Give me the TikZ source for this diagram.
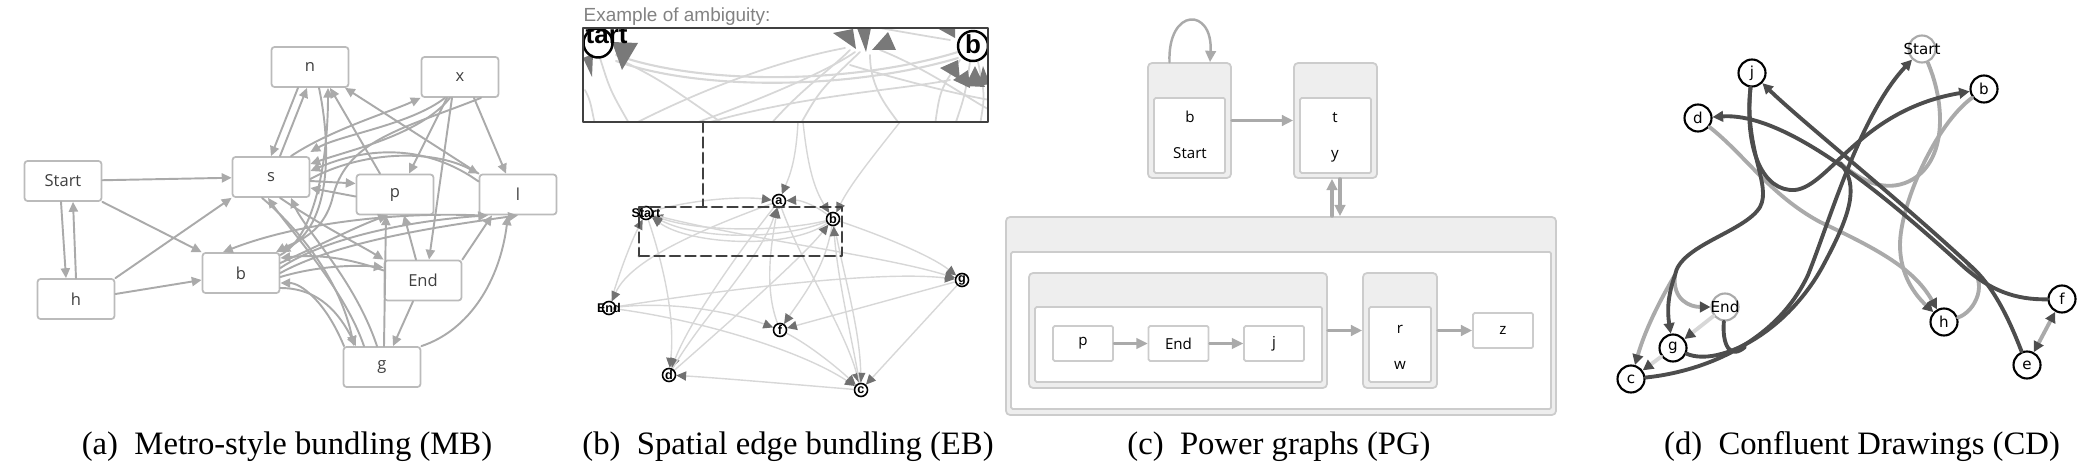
\documentclass[tikz,border=0pt]{standalone}
\usepackage{fontspec}
\usepackage{tikz}
\setmainfont{Liberation Serif}
\newfontfamily\mbfont{Open Sans}
\newfontfamily\ebfont{Liberation Sans}
\newfontfamily\cdfont{DejaVu Sans}
\usetikzlibrary{arrows.meta,backgrounds}
\definecolor{aaaaaa}{rgb}{0.6666666666666666,0.6666666666666666,0.6666666666666666}
\definecolor{bbbbbb}{rgb}{0.7333333333333333,0.7333333333333333,0.7333333333333333}
\definecolor{cccccc}{rgb}{0.8,0.8,0.8}
\definecolor{dddddd}{rgb}{0.8431372549019608,0.8431372549019608,0.8431372549019608}
\definecolor{eeeeee}{rgb}{0.9333333333333333,0.9333333333333333,0.9333333333333333}
\definecolor{ududud}{rgb}{0.30196078431372547,0.30196078431372547,0.30196078431372547}
\definecolor{uququq}{rgb}{0.25098039215686274,0.25098039215686274,0.25098039215686274}
\tikzstyle{every node}=[inner sep=0pt]
\tikzstyle{mbbox}=[draw=bbbbbb,line width=0.5pt,rounded corners=0.3mm,fill=white,minimum width=7.7mm,minimum height=4mm,text=uququq,font=\mbfont\fontsize{4.7}{5}\selectfont]
\tikzstyle{mbedge}=[draw=aaaaaa,line width=0.55pt,-{Triangle[length=2.8pt,width=2.6pt]}]
\tikzstyle{ebnode}=[circle,draw=black,line width=0.45pt,fill=white,minimum size=1.3mm]
\tikzstyle{eblab}=[font=\ebfont\bfseries\fontsize{3.6}{4}\selectfont]
\tikzstyle{ebedge}=[draw=dddddd,line width=0.4pt,-{Triangle[length=2.8pt,width=2.6pt,color=ududud!80]}]
\tikzstyle{ebdash}=[draw=uququq,line width=0.8pt,dash pattern=on 1mm off 0.55mm]
\tikzstyle{pggroup}=[draw=cccccc,line width=0.5pt,fill=eeeeee,rounded corners=0.4mm]
\tikzstyle{pginner}=[draw=cccccc,line width=0.5pt,fill=white,rounded corners=0.15mm]
\tikzstyle{pglab}=[anchor=base,font=\mbfont\fontsize{4.3}{5}\selectfont]
\tikzstyle{pgedge}=[draw=aaaaaa,line width=0.9pt,-{Triangle[length=3.2pt,width=3pt]}]
\tikzstyle{cdnode}=[circle,draw=black,line width=0.6pt,fill=white,minimum size=2.7mm,font=\cdfont\fontsize{4.3}{5}\selectfont]
\tikzstyle{cdlab}=[font=\cdfont\fontsize{4.3}{5}\selectfont]
\tikzstyle{cdedge}=[line width=1.1pt,-{Triangle[length=3pt,width=3pt,color=ududud]}]
\tikzstyle{capt}=[anchor=base,font=\fontsize{9.3}{11}\selectfont]

\begin{document}
\begin{tikzpicture}[line cap=round,line join=round,x=0.1mm,y=-0.1mm]
\useasboundingbox (0,0) rectangle (2099,476);
% (a) metro-style bundling
\node[mbbox] (mbn) at (310,67) {n};
\node[mbbox] (mbx) at (460,77) {x};
\node[mbbox] (mbStart) at (63,181) {Start};
\node[mbbox] (mbs) at (271,177) {s};
\node[mbbox] (mbp) at (395,194.5) {p};
\node[mbbox] (mbl) at (518,194.5) {l};
\node[mbbox] (mbh) at (76,299) {h};
\node[mbbox] (mbb) at (241,273) {b};
\node[mbbox] (mbEnd) at (423,280.5) {End};
\node[mbbox] (mbg) at (382,367) {g};
\draw[mbedge] (mbStart) -- (mbs);
\draw[mbedge] (mbStart.south east) -- (mbb.north west);
\draw[mbedge] ([xshift=-0.2mm]mbStart.south) -- ([xshift=-1mm]mbh.north);
\draw[mbedge] (mbh.north) -- ([xshift=1mm]mbStart.south);
\draw[mbedge] (mbh.north east) -- (mbs.south west);
\draw[mbedge] ([yshift=0.5mm]mbh.east) -- ([yshift=-0.7mm]mbb.west);
\draw[mbedge] ([xshift=0.9mm]mbs.north) -- ([xshift=-0.3mm]mbn.south);
\draw[mbedge] ([xshift=-1.2mm]mbn.south) -- (mbs.north);
\draw[mbedge] (mbl.north west) -- ([xshift=3.5mm]mbn.south);
\draw[mbedge] ([xshift=-1.5mm]mbp.north) -- ([xshift=2mm]mbn.south);
\draw[mbedge] ([xshift=-1.5mm]mbx.south) .. controls (410,125) and (340,135) .. ([yshift=2.5mm]mbs.east);
\draw[mbedge] ([xshift=-1mm]mbx.south) .. controls (420,135) and (350,150) .. ([yshift=1.3mm]mbs.east);
\draw[mbedge] ([xshift=2mm]mbs.north) .. controls (330,130) and (390,112) .. (mbx.south west);
\draw[mbedge] ([yshift=1.3mm]mbl.west) .. controls (420,140) and (360,150) .. ([yshift=0.6mm]mbs.east);
\draw[mbedge] ([yshift=-0.2mm]mbs.east) .. controls (360,152) and (430,148) .. (mbl.north west);
\draw[mbedge] ([yshift=-0.4mm]mbs.east) -- ([yshift=1.1mm]mbp.west);
\draw[mbedge] ([yshift=-0.2mm]mbp.west) -- ([yshift=-1.1mm]mbs.east);
\draw[mbedge] ([xshift=-1.3mm]mbx.south) -- ([xshift=1.4mm]mbp.north);
\draw[mbedge] ([xshift=-0.8mm]mbx.south) -- ([xshift=0.6mm]mbEnd.north);
\draw[mbedge] ([xshift=1.4mm]mbx.south) -- ([xshift=-1.2mm]mbl.north);
\draw[mbedge] ([xshift=2.1mm]mbx.south) .. controls (400,130) and (345,140) .. (332,200) .. controls (322,235) and (295,242) .. ([xshift=3.5mm]mbb.north);
\draw[mbedge] (mbl.south west) .. controls (400,212) and (300,222) .. ([xshift=-1.8mm]mbb.north);
\draw[mbedge] ([xshift=0.9mm]mbn.south) .. controls (332,150) and (330,225) .. (mbb.north east);
\draw[mbedge] ([yshift=1.8mm]mbb.east) .. controls (318,235) and (328,150) .. ([xshift=1.8mm]mbn.south);
\draw[mbedge] ([xshift=0.9mm]mbs.south) .. controls (320,225) and (360,245) .. (mbEnd.north west);
\draw[mbedge] ([xshift=-0.9mm]mbs.south) .. controls (300,230) and (340,280) .. ([xshift=-2.8mm]mbg.north);
\draw[mbedge] ([xshift=-1.8mm]mbg.north) .. controls (345,290) and (290,230) .. ([xshift=-0.3mm]mbs.south);
\draw[mbedge] ([xshift=-0.5mm]mbg.north) .. controls (355,280) and (305,230) .. ([xshift=2mm]mbs.south);
\draw[mbedge] ([yshift=1mm]mbb.east) .. controls (320,245) and (360,225) .. ([xshift=-0.7mm]mbp.south);
\draw[mbedge] ([yshift=0.5mm]mbb.east) .. controls (330,235) and (420,220) .. ([xshift=-3mm]mbl.south);
\draw[mbedge] (mbb.east) .. controls (340,240) and (450,225) .. (mbl.south);
\draw[mbedge] ([yshift=1mm]mbEnd.west) .. controls (340,255) and (310,255) .. ([yshift=1.5mm]mbb.east);
\draw[mbedge] ([xshift=-3.8mm]mbg.north) .. controls (325,300) and (300,283) .. ([yshift=-1mm]mbb.east);
\draw[mbedge] ([yshift=-0.4mm]mbb.east) .. controls (320,265) and (360,265) .. ([yshift=1.3mm]mbEnd.west);
\draw[mbedge] ([yshift=-1.5mm]mbb.east) .. controls (320,288) and (340,315) .. ([xshift=-2.6mm]mbg.north);
\draw[mbedge] ([xshift=-1mm]mbEnd.south) -- ([xshift=1.1mm]mbg.north);
\draw[mbedge] (mbEnd.north east) -- ([xshift=-2.6mm]mbl.south);
\draw[mbedge] ([xshift=-0.7mm]mbEnd.north) -- ([xshift=0.9mm]mbp.south);
\draw[mbedge] ([xshift=0.2mm]mbg.north) -- ([xshift=-0.9mm]mbp.south);
\draw[mbedge] (mbg.north east) .. controls (470,330) and (500,280) .. ([xshift=-1mm]mbl.south);

% (b) spatial edge bundling
\node[font=\ebfont\fontsize{5.4}{6}\selectfont,text=ududud!70,anchor=base west] (ebtitle) at (583,22) {Example of ambiguity:};
\begin{scope}
\clip (583,28) rectangle (988,122);
\draw[dddddd,line width=0.6pt] (616,55) .. controls (700,85) and (850,85) .. (958,52);
\draw[dddddd,line width=0.6pt] (616,61) .. controls (700,91) and (850,90) .. (958,58);
\draw[dddddd,line width=0.5pt] (600,58) .. controls (610,90) .. (630,125);
\draw[dddddd,line width=0.5pt] (625,62) .. controls (660,80) .. (725,125);
\draw[dddddd,line width=0.5pt] (632,125) .. controls (700,90) and (780,60) .. (845,48);
\draw[dddddd,line width=0.5pt] (690,125) .. controls (760,100) and (830,70) .. (855,52);
\draw[dddddd,line width=0.5pt] (770,125) .. controls (800,90) and (830,70) .. (850,50);
\draw[dddddd,line width=0.5pt] (800,125) .. controls (820,90) .. (860,52);
\draw[dddddd,line width=0.5pt] (870,55) .. controls (870,90) and (890,110) .. (900,125);
\draw[dddddd,line width=0.5pt] (880,50) .. controls (930,70) and (970,100) .. (990,110);
\draw[dddddd,line width=0.5pt] (850,65) .. controls (900,80) and (960,95) .. (990,100);
\draw[dddddd,line width=0.5pt] (960,60) .. controls (940,90) .. (935,125);
\draw[dddddd,line width=0.5pt] (970,62) .. controls (965,95) .. (955,125);
\draw[dddddd,line width=0.5pt] (978,62) .. controls (985,95) .. (980,125);
\draw[dddddd,line width=0.5pt] (700,125) .. controls (800,95) and (900,90) .. (950,80);
\draw[dddddd,line width=0.5pt] (880,28) .. controls (920,35) .. (950,40);
\draw[dddddd,line width=0.5pt] (585,90) .. controls (590,100) .. (595,125);
\fill[ududud!75] (612,42) -- (638,43) -- (622,70) -- cycle;
\fill[ududud!75] (583,58) -- (593,54) -- (592,77) -- cycle;
\fill[ududud!75] (833,33) -- (853,29) -- (856,49) -- cycle;
\fill[ududud!75] (857,28) -- (871,28) -- (866,52) -- cycle;
\fill[ududud!75] (872,50) -- (888,32) -- (896,50) -- cycle;
\fill[ududud!75] (937,28) -- (955,28) -- (955,38) -- cycle;
\fill[ududud!75] (940,68) -- (958,60) -- (960,80) -- cycle;
\fill[ududud!75] (953,80) -- (968,70) -- (970,88) -- cycle;
\fill[ududud!75] (965,86) -- (975,66) -- (985,87) -- cycle;
\fill[ududud!75] (978,86) -- (983,66) -- (990,84) -- cycle;
\node[circle,draw=black,line width=0.7pt,fill=white,fill opacity=0.6,minimum size=2.9mm] (ebzStart) at (598,43) {};
\node[circle,draw=black,line width=0.7pt,fill=white,fill opacity=0.6,minimum size=3mm] (ebzb) at (973,46) {};
\node[anchor=base,font=\ebfont\bfseries\fontsize{7.4}{8}\selectfont] (ebzStartlab) at (598,44) {Start};
\node[anchor=base,font=\ebfont\bfseries\fontsize{7.4}{8}\selectfont] (ebzblab) at (973,54) {b};
\end{scope}
\node[draw=uququq,line width=0.5pt,minimum width=40.5mm,minimum height=9.4mm] (ebzoom) at (785.5,75) {};
\node[ebnode,label={[eblab]center:Start}] (ebStart) at (646,213) {};
\node[ebnode,label={[eblab]center:a}] (eba) at (779,201) {};
\node[ebnode,label={[eblab]center:b}] (ebb) at (833,219) {};
\node[ebnode,label={[eblab]center:g}] (ebg) at (962,280) {};
\node[ebnode,label={[eblab]center:End}] (ebEnd) at (609,308) {};
\node[ebnode,label={[eblab]center:f}] (ebf) at (780,330) {};
\node[ebnode,label={[eblab]center:d}] (ebd) at (669,375) {};
\node[ebnode,label={[eblab]center:c}] (ebc) at (861,390) {};
\coordinate (ebz1) at (798,122);
\coordinate (ebz2) at (803,122);
\coordinate (ebz3) at (900,122);
\begin{scope}[on background layer]
\draw[ebedge] (ebStart) .. controls (690,200) and (740,196) .. (eba);
\draw[ebedge] (ebz1) .. controls (796,160) and (790,175) .. (eba);
\draw[ebedge] (ebz2) .. controls (808,170) and (815,190) .. (ebb);
\draw[ebedge] (ebz3) .. controls (870,160) and (850,185) .. (ebb);
\draw[ebedge] (ebb) .. controls (815,205) and (800,200) .. (eba);
\draw[ebedge] (ebb) .. controls (780,240) and (700,240) .. (ebStart);
\draw[ebedge] (ebb) .. controls (780,232) and (700,232) .. (ebStart);
\draw[ebedge] (ebb) .. controls (790,250) and (690,245) .. (ebStart);
\draw[ebedge] (ebEnd) .. controls (620,270) and (632,240) .. (ebStart);
\draw[ebedge] (eba) .. controls (700,230) and (630,260) .. (ebEnd);
\draw[ebedge] (ebStart) .. controls (665,270) and (675,320) .. (ebd);
\draw[ebedge] (eba) .. controls (740,250) and (690,320) .. (ebd);
\draw[ebedge] (ebd) .. controls (700,320) and (760,260) .. (eba);
\draw[ebedge] (ebd) .. controls (720,330) and (800,260) .. (ebb);
\draw[ebedge] (ebc) .. controls (800,385) and (720,378) .. (ebd);
\draw[ebedge] (ebf) .. controls (765,290) and (770,250) .. (eba);
\draw[ebedge] (ebb) .. controls (825,270) and (800,300) .. (ebf);
\draw[ebedge] (ebg) -- (ebf);
\draw[ebedge] (ebEnd) .. controls (720,290) and (880,270) .. (ebg);
\draw[ebedge] (ebb) .. controls (880,235) and (930,255) .. (ebg);
\draw[ebedge] (ebStart) .. controls (750,240) and (880,255) .. (ebg);
\draw[ebedge] (ebg) -- (ebc);
\draw[ebedge] (eba) .. controls (800,260) and (845,330) .. (ebc);
\draw[ebedge] (ebb) .. controls (845,280) and (860,330) .. (ebc);
\draw[ebedge] (ebc) .. controls (850,330) and (838,280) .. (ebb);
\draw[ebedge] (ebEnd) .. controls (700,320) and (800,350) .. (ebc);
\draw[ebedge] (ebEnd) .. controls (680,300) and (740,315) .. (ebf);
\draw[ebedge] (ebf) .. controls (810,345) and (840,370) .. (ebc);
\end{scope}
\node[ebdash,minimum width=20.3mm,minimum height=4.9mm] (ebsel) at (740.5,231.5) {};
\coordinate (ebzA) at (703,122);
\draw[ebdash] (ebzA) -- (ebzA |- ebsel.north);

% (c) power graphs
\node[pggroup,minimum width=8.3mm,minimum height=11.5mm] (pgOne) at (1189.5,120.5) {};
\node[pginner,minimum width=7.1mm,minimum height=7.5mm] (pgOneIn) at (1189.5,135.5) {};
\node[pglab] (pgb) at (1190,123) {b};
\node[pglab] (pgStart) at (1190,159) {Start};
\node[pggroup,minimum width=8.3mm,minimum height=11.5mm] (pgTwo) at (1335.5,120.5) {};
\node[pginner,minimum width=7.1mm,minimum height=7.5mm] (pgTwoIn) at (1335.5,135.5) {};
\node[pglab] (pgt) at (1335,123) {t};
\node[pglab] (pgy) at (1335,159) {y};
\node[pggroup,minimum width=55mm,minimum height=19.8mm] (pgAll) at (1281,316) {};
\node[pginner,minimum width=54mm,minimum height=15.7mm] (pgAllIn) at (1281,330.5) {};
\node[pggroup,minimum width=29.8mm,minimum height=11.5mm] (pgA) at (1178,330.5) {};
\node[pginner,minimum width=28.7mm,minimum height=7.5mm] (pgAIn) at (1178.5,344.5) {};
\node[pggroup,minimum width=7.4mm,minimum height=11.5mm] (pgB) at (1400,330.5) {};
\node[pginner,minimum width=6.2mm,minimum height=7.5mm] (pgBIn) at (1400,344.5) {};
\node[pglab] (pgr) at (1400,333) {r};
\node[pglab] (pgw) at (1400,370) {w};
\node[pginner,minimum width=6mm,minimum height=3.5mm,font=\mbfont\fontsize{4.3}{5}\selectfont] (pgp) at (1083,343.5) {p};
\node[pginner,minimum width=6mm,minimum height=3.5mm,font=\mbfont\fontsize{4.3}{5}\selectfont] (pgEnd) at (1178.5,343.5) {End};
\node[pginner,minimum width=6mm,minimum height=3.5mm,font=\mbfont\fontsize{4.3}{5}\selectfont] (pgj) at (1274,343.5) {j};
\node[pginner,minimum width=6mm,minimum height=3.5mm,font=\mbfont\fontsize{4.3}{5}\selectfont] (pgz) at (1503,330.5) {z};
\draw[pgedge,line width=0.7pt] ([xshift=-2mm]pgOne.north) .. controls +(-2,-55) and +(3,-55) .. ([xshift=2.05mm]pgOne.north);
\draw[pgedge] (pgOne) -- (pgTwo);
\draw[pgedge] ([xshift=-0.35mm]pgAll.north -| pgTwo.south) -- ([xshift=-0.35mm]pgTwo.south);
\draw[pgedge] ([xshift=0.45mm]pgTwo.south) -- ([xshift=0.45mm]pgAll.north -| pgTwo.south);
\draw[pgedge] (pgA) -- (pgB);
\draw[pgedge] (pgB) -- (pgz);
\draw[pgedge,line width=0.6pt] (pgp) -- (pgEnd);
\draw[pgedge,line width=0.6pt] (pgEnd) -- (pgj);

% (d) confluent drawings
\node[cdnode,draw=aaaaaa,label={[cdlab]center:Start}] (cdStart) at (1922,49) {};
\node[cdnode] (cdj) at (1752,73) {j};
\node[cdnode] (cdb) at (1984,89) {b};
\node[cdnode] (cdd) at (1698,118) {d};
\node[cdnode,draw=aaaaaa,label={[cdlab]center:End}] (cdEnd) at (1725,307) {};
\node[cdnode] (cdg) at (1673,348) {g};
\node[cdnode] (cdc) at (1631,379) {c};
\node[cdnode] (cdh) at (1944,322) {h};
\node[cdnode] (cdf) at (2062,299) {f};
\node[cdnode] (cde) at (2027,365) {e};
\coordinate (cdX) at (1840,163);
\coordinate (cdB) at (1675,275);
\coordinate (cdE1) at (1745,347);
\coordinate (cdH1) at (1968,265);
\draw[cdedge,draw=dddddd] (cdEnd) -- (cdg);
\draw[cdedge,draw=dddddd] (cdg) -- (cdc);
\draw[cdedge,draw=aaaaaa] (cdd) .. controls (1745,155) and (1770,195) .. (1820,222) .. controls (1880,250) and (1915,270) .. (cdh);
\draw[cdedge,draw=aaaaaa] (cdb) .. controls (1935,125) and (1900,205) .. (1900,245) .. controls (1900,275) and (1915,295) .. (cdh);
\draw[cdedge,draw=aaaaaa,-] (cdh) .. controls (1975,312) and (1990,282) .. (cdH1);
\draw[cdedge,draw=aaaaaa,-] (cdStart) .. controls (1948,110) and (1945,168) .. (1905,183) .. controls (1880,192) and (1858,178) .. (cdX);
\draw[cdedge,draw=aaaaaa] (cdB) .. controls (1672,300) and (1690,307) .. (cdEnd);
\draw[cdedge,draw=aaaaaa] (cdB) .. controls (1660,300) and (1645,330) .. (cdc);
\draw[cdedge,draw=aaaaaa,{Triangle[length=3pt,width=3pt,color=ududud]}-{Triangle[length=3pt,width=3pt,color=ududud]}] (cde) -- (cdf);
\draw[cdedge,draw=ududud] (cdc) .. controls (1700,372) and (1775,345) .. (1808,275) .. controls (1830,220) and (1860,115) .. (cdStart);
\draw[cdedge,draw=ududud,-] (cdg) .. controls (1720,368) and (1790,330) .. (1825,262) .. controls (1850,215) and (1860,185) .. (cdX);
\draw[cdedge,draw=ududud,-] (cdEnd) .. controls (1722,345) and (1730,360) .. (cdE1);
\draw[cdedge,draw=ududud,-] (cdj) .. controls (1744,150) and (1772,185) .. (1760,207) .. controls (1745,232) and (1680,245) .. (cdB);
\draw[cdedge,draw=ududud] (cdB) .. controls (1668,295) and (1667,310) .. (cdg);
\draw[cdedge,draw=ududud] (cdj) .. controls (1744,150) and (1763,192) .. (1795,190) .. controls (1830,186) and (1860,110) .. (cdb);
\draw[cdedge,draw=ududud] (cdf) .. controls (2015,300) and (1990,290) .. (1965,268) .. controls (1895,205) and (1790,112) .. (cdd);
\draw[cdedge,draw=ududud] (cde) .. controls (2015,335) and (2000,295) .. (1975,270) .. controls (1900,200) and (1800,120) .. (cdj);

% captions
\node[capt] (capa) at (287,455) {(a)\enspace Metro-style bundling (MB)};
\node[capt] (capb) at (788,455) {(b)\enspace Spatial edge bundling (EB)};
\node[capt] (capc) at (1279,455) {(c)\enspace Power graphs (PG)};
\node[capt] (capd) at (1862,455) {(d)\enspace Confluent Drawings (CD)};
\end{tikzpicture}
\end{document}
